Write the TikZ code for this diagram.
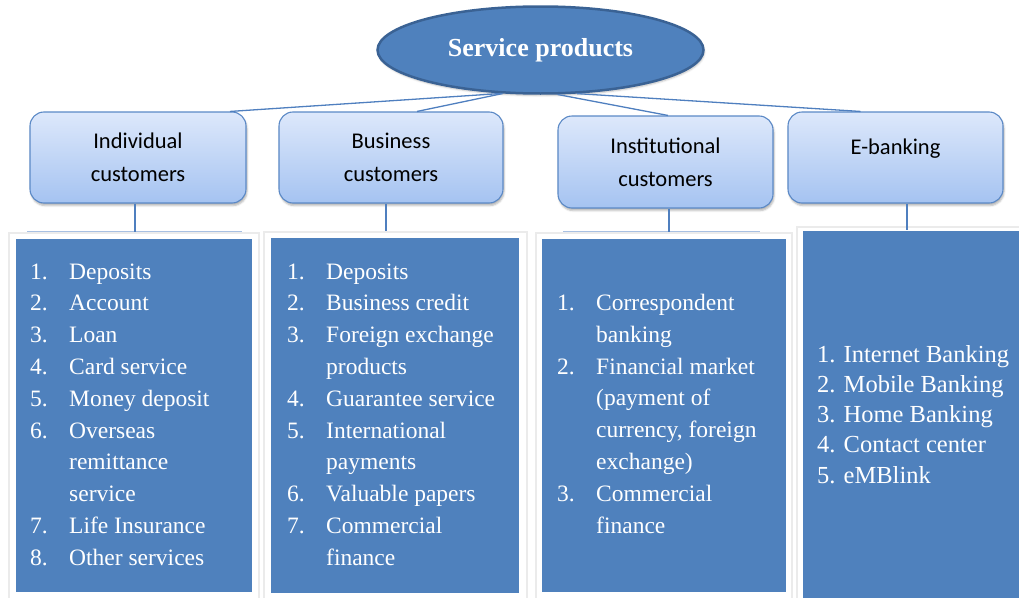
\documentclass[tikz,border=0pt]{standalone}
\usepackage{fontspec}
\setmainfont{Liberation Serif}
\newfontfamily\boxfont{Carlito}
\usetikzlibrary{shapes.geometric,shadows.blur}

\definecolor{rootfill}{HTML}{4F81BD}
\definecolor{rootrim}{HTML}{3A6294}
\definecolor{grouptop}{HTML}{DDE8FB}
\definecolor{groupbot}{HTML}{A5C3F1}
\definecolor{groupedge}{HTML}{5B89C6}
\definecolor{linkblue}{HTML}{4F7FBF}
\definecolor{panelfill}{HTML}{4F81BD}
\definecolor{backline}{HTML}{A8C0E2}

\begin{document}
\begin{tikzpicture}[x=1pt,y=-1pt,
  root/.style={ellipse, draw=rootrim, line width=2.5pt, fill=rootfill,
    minimum width=326pt, minimum height=87pt, inner sep=0pt, text=white,
    font=\fontsize{26}{30}\selectfont\bfseries,
    blur shadow={shadow xshift=1pt, shadow yshift=-2pt, shadow opacity=25}},
  group/.style={rectangle, rounded corners=14pt, draw=groupedge, line width=1.1pt,
    top color=grouptop, bottom color=groupbot, inner sep=0pt, align=center,
    font=\boxfont\fontsize{22.5}{33.4}\selectfont,
    blur shadow={shadow xshift=1pt, shadow yshift=-2.5pt, shadow opacity=30}},
  frame/.style={rectangle, fill=white, draw=black!8, line width=2.5pt, inner sep=0pt},
  panel/.style={rectangle, fill=panelfill, inner sep=0pt},
  items/.style={anchor=base west, inner sep=0pt, text=white,
    font=\fontsize{23.5}{31.8}\selectfont},
  link/.style={draw=linkblue, line width=1.3pt}
]
\useasboundingbox (0,0) rectangle (1019,597);

% top of the hierarchy
\node[root] (root) at (540.5,50) {Service products};

% customer groups
\node[group, minimum width=216pt, minimum height=91pt] (ind) at (138,157.5) {Individual\\customers};
\node[group, minimum width=224pt, minimum height=91pt] (bus) at (391,157.5) {Business\\customers};
\node[group, minimum width=215pt, minimum height=92pt] (inst) at (665.5,162) {Institutional\\customers};
\node[group, minimum width=215pt, minimum height=91pt] (ebk) at (895.5,157.5) {E-banking\\[-11pt]\mbox{}};

% framed product panels
\node[frame, minimum width=250pt, minimum height=366pt] (fr1) at (134,416) {};
\node[frame, minimum width=263pt, minimum height=367pt] (fr2) at (395.5,415.5) {};
\node[frame, minimum width=256pt, minimum height=366pt] (fr3) at (664,416) {};
\node[frame, minimum width=236pt, minimum height=376pt] (fr4) at (915,415) {};

\node[panel, minimum width=236pt, minimum height=353pt] (p1) at (134,415.5) {};
\node[panel, minimum width=248pt, minimum height=355pt] (p2) at (395,415.5) {};
\node[panel, minimum width=244pt, minimum height=353pt] (p3) at (664,415.5) {};
\node[panel, minimum width=226pt, minimum height=370pt] (p4) at (916,416) {};

% faint outlines of the text boxes behind the panels
\draw[backline, line width=1.2pt] (27,231.5) -- (242,231.5);
\draw[backline, line width=1.2pt] (563,231.5) -- (760,231.5);

% connectors from the root to the groups
\draw[link] (root.228) -- ([xshift=92pt]ind.north);
\draw[link] (root.229) -- ([xshift=26pt]bus.north);
\draw[link] (root.291) -- ([xshift=2.5pt]inst.north);
\draw[link] (root.310) -- ([xshift=-35pt]ebk.north);

% connectors from the groups down to their panels
\coordinate (d1) at ([xshift=-3pt]ind.south);
\coordinate (d2) at ([xshift=-5pt]bus.south);
\coordinate (d3) at ([xshift=3.5pt]inst.south);
\coordinate (d4) at ([xshift=11.5pt]ebk.south);
\draw[link] (d1) -- (d1 |- fr1.north);
\draw[link] (d2) -- (d2 |- fr2.north);
\draw[link] (d3) -- (d3 |- fr3.north);
\draw[link] (d4) -- ([yshift=-4pt]d4 |- fr4.north);

% product lists
\node[items] (l1) at (30,279) {\begin{tabular}[t]{@{}p{39pt}@{}l@{}}
1. & Deposits\\
2. & Account\\
3. & Loan\\
4. & Card service\\
5. & Money deposit\\
6. & Overseas\\
   & remittance\\
   & service\\
7. & Life Insurance\\
8. & Other services
\end{tabular}};

\node[items] (l2) at (287,279) {\begin{tabular}[t]{@{}p{39pt}@{}l@{}}
1. & Deposits\\
2. & Business credit\\
3. & Foreign exchange\\
   & products\\
4. & Guarantee service\\
5. & International\\
   & payments\\
6. & Valuable papers\\
7. & Commercial\\
   & finance
\end{tabular}};

\node[items] (l3) at (557,310.5) {\begin{tabular}[t]{@{}p{39pt}@{}l@{}}
1. & Correspondent\\
   & banking\\
2. & Financial market\\
   & (payment of\\
   & currency, foreign\\
   & exchange)\\
3. & Commercial\\
   & finance
\end{tabular}};

\node[items, font=\fontsize{24.5}{30.3}\selectfont] (l4) at (817,362) {\begin{tabular}[t]{@{}l@{}}
1. Internet Banking\\
2. Mobile Banking\\
3. Home Banking\\
4. Contact center\\
5. eMBlink
\end{tabular}};
\end{tikzpicture}
\end{document}
